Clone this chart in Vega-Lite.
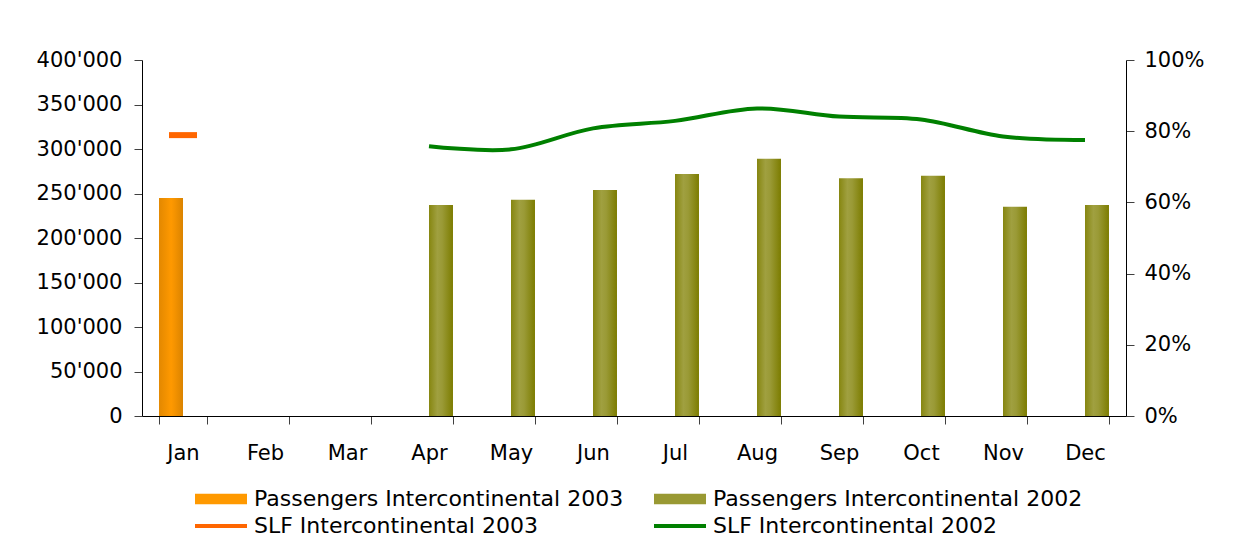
{
  "$schema": "https://vega.github.io/schema/vega-lite/v6.json",
  "width": 984,
  "height": 356,
  "autosize": "none",
  "padding": {"left": 142, "top": 60, "right": 111, "bottom": 130},
  "background": "white",
  "config": {
    "font": "DejaVu Sans",
    "view": {"stroke": null},
    "axis": {
      "labelFont": "DejaVu Sans",
      "labelFontSize": 21,
      "labelColor": "#000000",
      "domainColor": "#000000",
      "tickColor": "#404040",
      "tickSize": 8,
      "grid": false,
      "title": null
    }
  },
  "data": {
    "values": [
      {"month": "Jan", "series": "Passengers Intercontinental 2003", "value": 245000},
      {"month": "Apr", "series": "Passengers Intercontinental 2002", "value": 237000},
      {"month": "May", "series": "Passengers Intercontinental 2002", "value": 243000},
      {"month": "Jun", "series": "Passengers Intercontinental 2002", "value": 254000},
      {"month": "Jul", "series": "Passengers Intercontinental 2002", "value": 272000},
      {"month": "Aug", "series": "Passengers Intercontinental 2002", "value": 289000},
      {"month": "Sep", "series": "Passengers Intercontinental 2002", "value": 267000},
      {"month": "Oct", "series": "Passengers Intercontinental 2002", "value": 270000},
      {"month": "Nov", "series": "Passengers Intercontinental 2002", "value": 235000},
      {"month": "Dec", "series": "Passengers Intercontinental 2002", "value": 237000},
      {"month": "Jan", "series": "SLF Intercontinental 2003", "value": 0.789},
      {"month": "Apr", "series": "SLF Intercontinental 2002", "value": 0.758},
      {"month": "May", "series": "SLF Intercontinental 2002", "value": 0.749},
      {"month": "Jun", "series": "SLF Intercontinental 2002", "value": 0.808},
      {"month": "Jul", "series": "SLF Intercontinental 2002", "value": 0.829},
      {"month": "Aug", "series": "SLF Intercontinental 2002", "value": 0.864},
      {"month": "Sep", "series": "SLF Intercontinental 2002", "value": 0.841},
      {"month": "Oct", "series": "SLF Intercontinental 2002", "value": 0.833},
      {"month": "Nov", "series": "SLF Intercontinental 2002", "value": 0.785},
      {"month": "Dec", "series": "SLF Intercontinental 2002", "value": 0.775}
    ]
  },
  "encoding": {
    "x": {
      "field": "month",
      "type": "nominal",
      "scale": {
        "domain": ["Jan", "Feb", "Mar", "Apr", "May", "Jun", "Jul", "Aug", "Sep", "Oct", "Nov", "Dec"],
        "paddingInner": 0.415,
        "paddingOuter": 0.2075
      },
      "axis": {"labelAngle": 0, "tickBand": "extent", "labelPadding": 18, "title": null}
    }
  },
  "layer": [
    {
      "transform": [{"filter": "indexof(datum.series, 'Passengers') == 0"}],
      "mark": {"type": "bar", "strokeWidth": 0},
      "encoding": {
        "xOffset": {
          "field": "series",
          "type": "nominal",
          "scale": {"domain": ["Passengers Intercontinental 2003", "Passengers Intercontinental 2002"]}
        },
        "y": {
          "field": "value",
          "type": "quantitative",
          "scale": {"domain": [0, 400000]},
          "axis": {
            "orient": "left",
            "values": [0, 50000, 100000, 150000, 200000, 250000, 300000, 350000, 400000],
            "labelExpr": "replace(format(datum.value, ','), /,/g, \"'\")",
            "labelPadding": 12
          }
        },
        "fill": {
          "condition": {
            "test": "datum.series == 'Passengers Intercontinental 2003'",
            "value": {"gradient": "linear", "x1": 0, "y1": 0, "x2": 1, "y2": 0,
              "stops": [{"offset": 0, "color": "#E38800"}, {"offset": 0.3, "color": "#F39200"}, {"offset": 0.5, "color": "#FF9900"}, {"offset": 0.65, "color": "#F59300"}, {"offset": 1, "color": "#DA8300"}]}
          },
          "value": {"gradient": "linear", "x1": 0, "y1": 0, "x2": 1, "y2": 0,
            "stops": [{"offset": 0, "color": "#868610"}, {"offset": 0.35, "color": "#A0A040"}, {"offset": 0.55, "color": "#9A9A36"}, {"offset": 1, "color": "#7C7C00"}]}
        }
      }
    },
    {
      "layer": [
        {
          "transform": [{"filter": "datum.series == 'SLF Intercontinental 2002'"}],
          "mark": {"type": "line", "strokeWidth": 4, "interpolate": "cardinal"},
          "encoding": {
            "y": {
              "field": "value",
              "type": "quantitative",
              "scale": {"domain": [0, 1]},
              "axis": {
                "orient": "right",
                "values": [0, 0.2, 0.4, 0.6, 0.8, 1],
                "format": ".0%",
                "labelPadding": 10
              }
            },
            "color": {
              "field": "series",
              "type": "nominal",
              "scale": {
                "domain": ["Passengers Intercontinental 2003", "Passengers Intercontinental 2002", "SLF Intercontinental 2003", "SLF Intercontinental 2002"],
                "range": ["#FF9900", "#999933", "#FF6600", "#008000"]
              },
              "legend": {
                "title": null,
                "orient": "none",
                "legendX": 68,
                "legendY": 428,
                "columns": 2,
                "direction": "horizontal",
                "symbolSize": 2704,
                "labelFont": "DejaVu Sans",
                "labelFontSize": 22,
                "labelColor": "#000000",
                "labelOffset": 22,
                "labelLimit": 600,
                "columnPadding": 22,
                "rowPadding": 5,
                "encode": {
                  "symbols": {
                    "update": {
                      "shape": {"signal": "test(/^SLF/, datum.value) ? 'stroke' : 'M-1,-0.2L1,-0.2L1,0.2L-1,0.2Z'"},
                      "fill": {"signal": "datum.value == 'Passengers Intercontinental 2003' ? {gradient: 'linear', x1: 0, y1: 0, x2: 1, y2: 0, stops: [{offset: 0, color: '#E38800'}, {offset: 0.5, color: '#FF9900'}, {offset: 1, color: '#DA8300'}]} : datum.value == 'Passengers Intercontinental 2002' ? {gradient: 'linear', x1: 0, y1: 0, x2: 1, y2: 0, stops: [{offset: 0, color: '#868610'}, {offset: 0.5, color: '#A0A040'}, {offset: 1, color: '#7C7C00'}]} : 'transparent'"},
                      "stroke": {"signal": "datum.value == 'SLF Intercontinental 2003' ? '#FF6600' : datum.value == 'SLF Intercontinental 2002' ? '#008000' : 'transparent'"},
                      "strokeWidth": {"signal": "test(/^SLF/, datum.value) ? 4 : 0"},
                      "opacity": {"value": 1}
                    }
                  }
                }
              }
            }
          }
        },
        {
          "transform": [{"filter": "datum.series == 'SLF Intercontinental 2003'"}],
          "mark": {"type": "tick", "thickness": 6, "size": 28, "opacity": 1},
          "encoding": {
            "y": {"field": "value", "type": "quantitative"},
            "color": {"field": "series", "type": "nominal"}
          }
        }
      ]
    }
  ],
  "resolve": {"scale": {"y": "independent"}}
}
